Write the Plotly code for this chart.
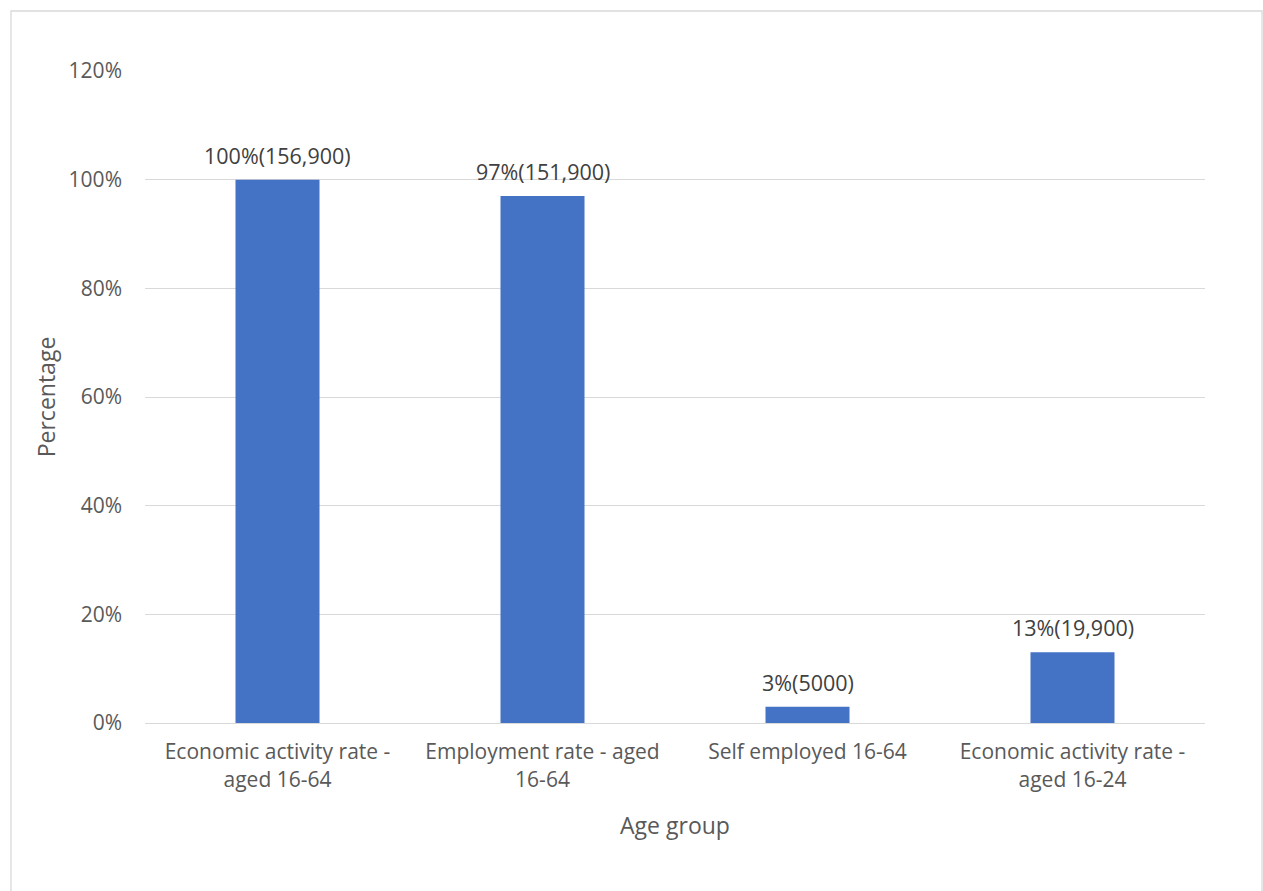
import plotly.graph_objects as go

categories = ["Economic activity rate -<br>aged 16-64", "Employment rate - aged<br>16-64",
              "Self employed 16-64", "Economic activity rate -<br>aged 16-24"]
values = [1.00, 0.97, 0.03, 0.13]
labels = ["100%(156,900)", "97%(151,900)", "3%(5000)", "13%(19,900)"]
tick_vals = [0, 0.2, 0.4, 0.6, 0.8, 1.0, 1.2]
tick_text = ["0%", "20%", "40%", "60%", "80%", "100%", "120%"]

FONT = "'Open Sans', sans-serif"
GRAY = "#595959"

fig = go.Figure(go.Bar(
    x=categories, y=values,
    marker=dict(color="#4472C4", line=dict(width=0)),
    width=0.317, cliponaxis=False,
))

for c, v, t in zip(categories, values, labels):
    fig.add_annotation(x=c, y=v, text=t, showarrow=False, yanchor="bottom",
                       yshift=8, font=dict(color="#404040", size=21.5, family=FONT))

L, R, T, B = 145, 58, 71, 168
W, H = 1263, 891
pw, ph = W - L - R, H - T - B

fig.update_layout(
    width=W, height=H, margin=dict(l=L, r=R, t=T, b=B),
    paper_bgcolor="white", plot_bgcolor="white",
    font=dict(family=FONT, color=GRAY, size=21),
    showlegend=False,
    xaxis=dict(title=dict(text="Age group", font=dict(size=23), standoff=26),
               showline=True, linecolor="#D9D9D9", linewidth=1.3,
               ticks="", ticklabelstandoff=10, tickfont=dict(size=21)),
    yaxis=dict(title=dict(text="Percentage", font=dict(size=23), standoff=6),
               range=[0, 1.2], tickvals=tick_vals, ticktext=tick_text,
               showgrid=True, gridcolor="#D9D9D9", gridwidth=1.3,
               zeroline=False, ticks="", ticklabelstandoff=22, tickfont=dict(size=21)),
    shapes=[dict(type="rect", xref="paper", yref="paper",
                 x0=(11 - L) / pw, x1=(1262 - L) / pw,
                 y0=(H - B - 895) / ph, y1=(H - B - 11) / ph,
                 line=dict(color="#D9D9D9", width=1.3), layer="below")],
)
fig.write_html("out.html")
